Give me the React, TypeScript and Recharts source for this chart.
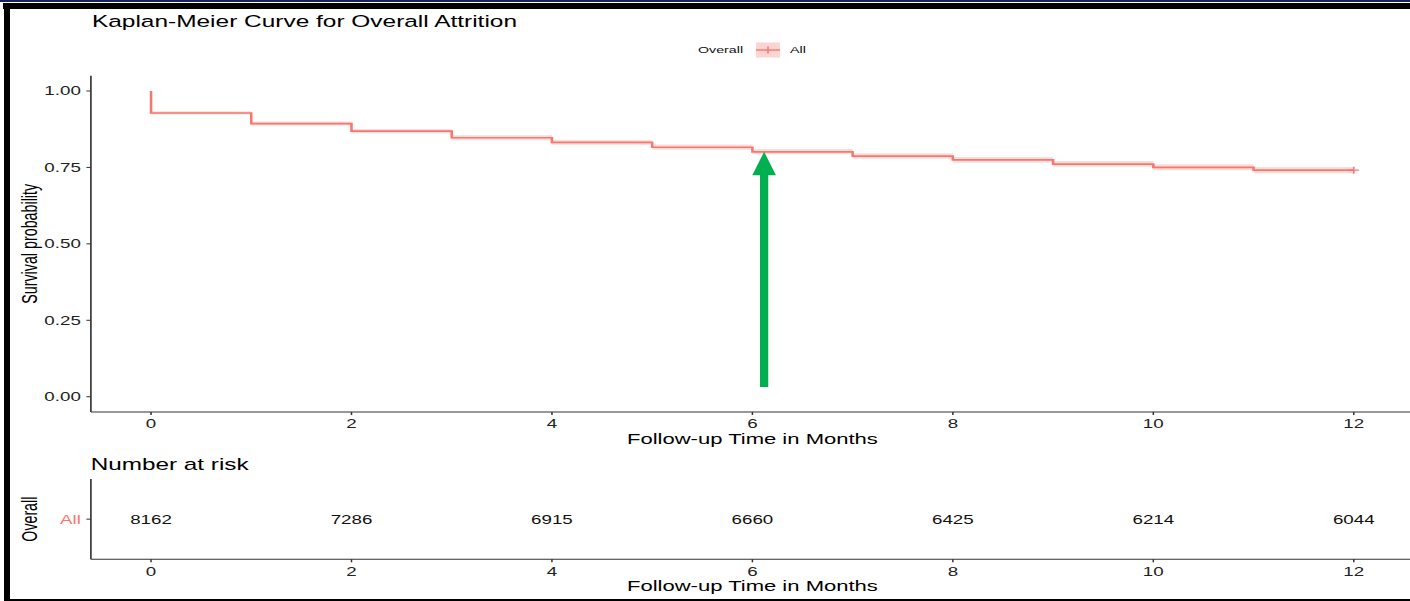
import React from 'react';
import {
  ComposedChart,
  ScatterChart,
  Line,
  Area,
  Scatter,
  XAxis,
  YAxis,
  Legend,
  ReferenceLine,
} from 'recharts';

// ---------- data ----------
const kmTimes = [0, 0, 1, 2, 3, 4, 5, 6, 7, 8, 9, 10, 11, 12];
const kmSurvival = [1.0, 0.928, 0.893, 0.869, 0.847, 0.832, 0.816, 0.801, 0.787, 0.775, 0.761, 0.75, 0.741, 0.741];
const kmLower = [1.0, 0.923, 0.887, 0.862, 0.839, 0.824, 0.808, 0.793, 0.778, 0.766, 0.752, 0.741, 0.731, 0.731];
const kmUpper = [1.0, 0.934, 0.9, 0.876, 0.855, 0.84, 0.825, 0.81, 0.796, 0.784, 0.771, 0.76, 0.751, 0.751];
const censorTimes = [12];
const xTicks = [0, 2, 4, 6, 8, 10, 12];
const yTicks = [0, 0.25, 0.5, 0.75, 1];
const riskTimes = [0, 2, 4, 6, 8, 10, 12];
const riskCounts = [8162, 7286, 6915, 6660, 6425, 6214, 6044];
const strataNames = ['All'];
const legendTitle = 'Overall';
const arrowTime = 6.117;
const arrowFrom = 0.032;
const arrowTo = 0.801;

// ---------- style ----------
const FONT = "'Liberation Sans', Arial, Helvetica, sans-serif";
const RED = '#F8766D';
const GREEN = '#00B050';
const AXIS = '#333333';
const K = 1.5; // horizontal stretch of the whole picture
const CW = 950; // unscaled chart width

const kmRows = kmTimes.map((t, i) => ({ t, surv: kmSurvival[i], ci: [kmLower[i], kmUpper[i]] }));
const riskRows = riskTimes.map((t, i) => ({ t, y: 1, n: riskCounts[i] }));

const CensorDot = (props: any) => {
  const { cx, cy, index, payload } = props;
  if (index !== kmRows.length - 1 || !censorTimes.includes(payload.t)) {
    return <g key={`d${index}`} />;
  }
  return (
    <path
      key={`d${index}`}
      d={`M${cx - 3.4},${cy}H${cx + 3.4}M${cx},${cy - 3.5}V${cy + 3.5}`}
      stroke={RED}
      strokeWidth={1.1}
      fill="none"
    />
  );
};

const ArrowShape = (props: any) => {
  const { x1, y1, x2, y2 } = props;
  const cx = (x1 + x2) / 2;
  const tip = Math.min(y1, y2);
  const bottom = Math.max(y1, y2);
  const hw = 2.75;
  const headW = 7.9;
  const headL = 23.3;
  const base = tip + headL;
  const pts = [
    [cx - hw, bottom],
    [cx - hw, base],
    [cx - headW, base],
    [cx, tip],
    [cx + headW, base],
    [cx + hw, base],
    [cx + hw, bottom],
  ]
    .map((p) => p.join(','))
    .join(' ');
  return <polygon points={pts} fill={GREEN} />;
};

const renderLegend = () => (
  <svg width={130} height={20} style={{ display: 'block', overflow: 'visible' }}>
    <text x={10.3} y={13.4} fontSize={9.5} fontFamily={FONT} fill="#111">
      {legendTitle}
    </text>
    <rect x={49} y={2.5} width={16} height={15} fill="#FCD5D2" />
    <line x1={49} x2={65} y1={10} y2={10} stroke={RED} strokeWidth={1.4} />
    <line x1={57} x2={57} y1={6.5} y2={13.5} stroke={RED} strokeWidth={1} />
    <text x={71.7} y={13.4} fontSize={9.5} fontFamily={FONT} fill="#111">
      {strataNames[0]}
    </text>
  </svg>
);

const xTitle = (props: any) => {
  const vb = props.viewBox;
  return (
    <text
      x={vb.x + vb.width / 2}
      y={vb.y + 32}
      textAnchor="middle"
      fontSize={14.7}
      fontFamily={FONT}
      fill="#000"
    >
      Follow-up Time in Months
    </text>
  );
};

const makeYTitle = (label: string, size: number) => (props: any) => {
  const vb = props.viewBox;
  const x = 24.8;
  const y = vb.y + vb.height / 2;
  return (
    <text
      x={x}
      y={y}
      transform={`rotate(-90, ${x}, ${y})`}
      textAnchor="middle"
      fontSize={size}
      fontFamily={FONT}
      fill="#000"
    >
      {label}
    </text>
  );
};

const RiskText = (props: any) => {
  const { cx, cy, payload } = props;
  return (
    <text x={cx} y={cy} dy="0.355em" textAnchor="middle" fontSize={12.5} fontFamily={FONT} fill="#111">
      {payload.n}
    </text>
  );
};

const tickStyle = { fill: '#222', fontSize: 12.5, fontFamily: FONT };

export default function App() {
  return (
    <div
      style={{
        position: 'absolute',
        left: 0,
        top: 0,
        width: 1410,
        height: 601,
        overflow: 'hidden',
        background: '#fff',
        fontFamily: FONT,
      }}
    >
      <div
        style={{
          position: 'absolute',
          left: 0,
          top: 0,
          width: CW,
          height: 601,
          transform: `scaleX(${K})`,
          transformOrigin: '0 0',
        }}
      >
        <div style={{ position: 'absolute', left: 0, top: 0 }}>
          <ComposedChart
            width={CW}
            height={455}
            data={kmRows}
            margin={{ top: 75.7, right: 7.4, bottom: 3, left: 20.6 }}
          >
            <XAxis
              dataKey="t"
              type="number"
              domain={[-0.6, 12.6]}
              ticks={xTicks}
              interval={0}
              allowDataOverflow
              height={40}
              tickSize={3}
              tickMargin={4.3}
              axisLine={{ stroke: AXIS, strokeWidth: 1.1 }}
              tickLine={{ stroke: AXIS, strokeWidth: 1 }}
              tick={tickStyle}
              label={{ content: xTitle }}
            />
            <YAxis
              type="number"
              domain={[-0.05, 1.05]}
              ticks={yTicks}
              interval={0}
              allowDataOverflow
              width={40}
              tickSize={3}
              tickMargin={3.7}
              tickFormatter={(v: number) => v.toFixed(2)}
              axisLine={{ stroke: AXIS, strokeWidth: 1.1 }}
              tickLine={{ stroke: AXIS, strokeWidth: 1 }}
              tick={tickStyle}
              label={{ content: makeYTitle('Survival probability', 14.3) }}
            />
            <Legend
              layout="horizontal"
              verticalAlign="middle"
              align="center"
              wrapperStyle={{ left: 455, top: 40, width: 130, height: 20 }}
              content={renderLegend}
            />
            <Area
              type="stepAfter"
              dataKey="ci"
              stroke="none"
              fill={RED}
              fillOpacity={0.25}
              legendType="none"
              activeDot={false}
              isAnimationActive={false}
            />
            <Line
              type="stepAfter"
              dataKey="surv"
              name={strataNames[0]}
              stroke={RED}
              strokeWidth={1.7}
              dot={CensorDot}
              activeDot={false}
              isAnimationActive={false}
            />
            <ReferenceLine
              segment={[
                { x: arrowTime, y: arrowFrom },
                { x: arrowTime, y: arrowTo },
              ]}
              ifOverflow="visible"
              shape={ArrowShape}
            />
          </ComposedChart>
        </div>

        <div style={{ position: 'absolute', left: 0, top: 455 }}>
          <ScatterChart
            width={CW}
            height={146}
            margin={{ top: 24, right: 7.4, bottom: 1.7, left: 20.6 }}
          >
            <XAxis
              dataKey="t"
              type="number"
              domain={[-0.6, 12.6]}
              ticks={xTicks}
              interval={0}
              allowDataOverflow
              height={40}
              tickSize={3}
              tickMargin={4.6}
              axisLine={{ stroke: AXIS, strokeWidth: 1.1 }}
              tickLine={{ stroke: AXIS, strokeWidth: 1 }}
              tick={tickStyle}
              label={{ content: xTitle }}
            />
            <YAxis
              dataKey="y"
              type="number"
              domain={[0, 2]}
              ticks={[1]}
              interval={0}
              width={40}
              tickSize={3}
              tickMargin={3.7}
              tickFormatter={() => strataNames[0]}
              axisLine={{ stroke: AXIS, strokeWidth: 1.1 }}
              tickLine={{ stroke: AXIS, strokeWidth: 1 }}
              tick={{ fill: RED, fontSize: 12.5, fontFamily: FONT }}
              label={{ content: makeYTitle(legendTitle, 14.2) }}
            />
            <Scatter data={riskRows} shape={RiskText} isAnimationActive={false} />
          </ScatterChart>
        </div>

        <svg
          width={CW}
          height={601}
          style={{ position: 'absolute', left: 0, top: 0, pointerEvents: 'none' }}
        >
          <text x={61.3} y={27.5} fontSize={16.3} fontFamily={FONT} fill="#000">
            Kaplan-Meier Curve for Overall Attrition
          </text>
          <text x={60.5} y={470} fontSize={16.2} fontFamily={FONT} fill="#000">
            Number at risk
          </text>
        </svg>
      </div>

      {/* frame of the screenshot */}
      <div style={{ position: 'absolute', left: 0, top: 0, width: 1410, height: 1.5, background: '#17235a' }} />
      <div style={{ position: 'absolute', left: 3, top: 3, width: 1407, height: 6, background: '#000' }} />
      <div style={{ position: 'absolute', left: 4, top: 3, width: 6, height: 598, background: '#000' }} />
      <div style={{ position: 'absolute', left: 4, top: 598.5, width: 1406, height: 2.5, background: '#000' }} />
    </div>
  );
}
